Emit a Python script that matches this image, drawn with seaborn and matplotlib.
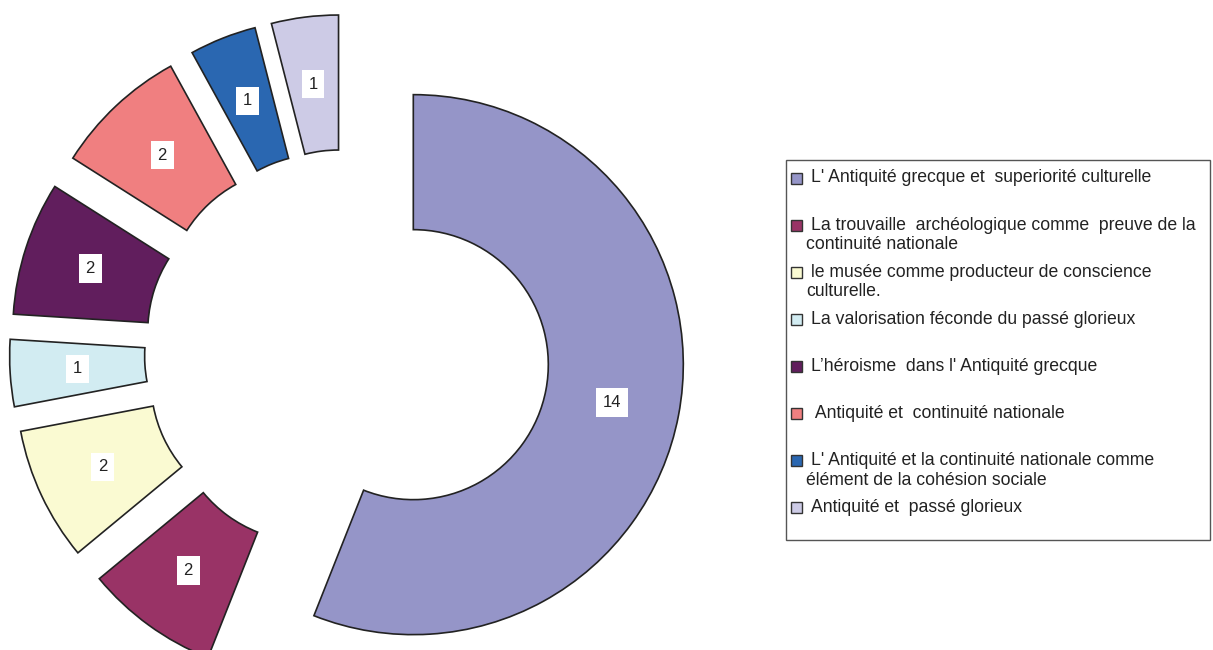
import matplotlib
matplotlib.use("Agg")
import matplotlib.pyplot as plt
import matplotlib.patches as mpatches
import seaborn as sns

# chart data
categories = [
    "L' Antiquité grecque et  superiorité culturelle",
    "La trouvaille  archéologique comme  preuve de la\ncontinuité nationale",
    "le musée comme producteur de conscience\nculturelle.",
    "La valorisation féconde du passé glorieux",
    "L’héroisme  dans l' Antiquité grecque",
    " Antiquité et  continuité nationale",
    "L' Antiquité et la continuité nationale comme\nélément de la cohésion sociale",
    "Antiquité et  passé glorieux",
]
values = [14, 2, 2, 1, 2, 2, 1, 1]
colors = ["#9595C8", "#993366", "#FAFAD2", "#D2ECF2",
          "#611E5D", "#F07F80", "#2A67B1", "#CDCBE6"]

sns.set_style("white")
plt.rcParams['font.family'] = ['Liberation Sans', 'DejaVu Sans']

W, H = 1213, 650
fig = plt.figure(figsize=(W / 100, H / 100), dpi=100)
ax = fig.add_axes([0, 0, 1, 1])

# pixel geometry of the donut
R = 270
cx, cy = 347, 352
total = sum(values)

wedges, texts, autotexts = ax.pie(
    values, colors=colors, startangle=90, counterclock=False,
    radius=1, explode=[0.25] * len(values),
    wedgeprops=dict(width=0.5, edgecolor="#222222", linewidth=1.2),
    autopct=lambda p: f"{p * total / 100:.0f}", pctdistance=0.75,
    textprops=dict(fontsize=12, color="#222222"),
)
for t in autotexts:
    t.set_bbox(dict(boxstyle="square,pad=0.4", fc="white", ec="none"))

ax.set_xlim(-cx / R, (W - cx) / R)
ax.set_ylim(-(H - cy) / R, cy / R)
ax.set_aspect("equal")
ax.axis("off")

# legend drawn by hand, Excel style
lx0, ly0, lx1, ly1 = 786, 160, 1210, 540
fig.add_artist(mpatches.Rectangle((lx0 / W, 1 - ly1 / H), (lx1 - lx0) / W,
                                  (ly1 - ly0) / H, transform=fig.transFigure,
                                  fc="white", ec="#555555", lw=1))
for i, (lab, col) in enumerate(zip(categories, colors)):
    y = 178 + 47.1 * i
    fig.add_artist(mpatches.Rectangle((791 / W, 1 - (y + 5.5) / H), 11 / W, 11 / H,
                                      transform=fig.transFigure,
                                      fc=col, ec="#333333", lw=1))
    for j, line in enumerate(lab.split("\n")):
        fig.text((811 if j == 0 else 806) / W, 1 - (y + 19.5 * j) / H, line,
                 fontsize=12.7, color="#222222", va="center", ha="left")

fig.savefig("out.png", dpi=100)
